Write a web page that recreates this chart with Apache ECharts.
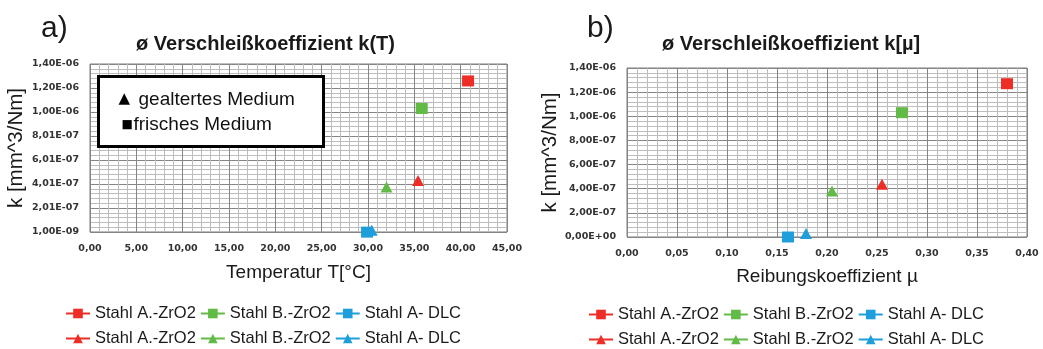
<!DOCTYPE html>
<html>
<head>
<meta charset="utf-8">
<title>Verschleißkoeffizient</title>
<script src="https://cdn.jsdelivr.net/npm/echarts@6/dist/echarts.min.js"></script>
<style>
  html, body { margin: 0; padding: 0; background: #ffffff; }
  #chart { width: 1043px; height: 349px; }
</style>
</head>
<body>
<div id="chart"></div>
<script>
// Series labels shared by both panels
const materialNames = ['Stahl A.-ZrO2', 'Stahl B.-ZrO2', 'Stahl A- DLC'];
const materialColors = ['#EE2E26', '#63BB47', '#1E9FDB'];

// a) k over temperature T [°C]: fresh medium (squares) and aged medium (triangles)
const tempFresh = [40.8, 35.8, 29.9];
const kTempFresh = [1.26e-6, 1.03e-6, 0];
const tempAged = [35.4, 32.0, 30.4];
const kTempAged = [4.3e-7, 3.75e-7, 1.5e-8];

// b) k over friction coefficient µ
const muFresh = [0.380, 0.275, 0.161];
const kMuFresh = [1.27e-6, 1.03e-6, 0];
const muAged = [0.255, 0.205, 0.179];
const kMuAged = [4.37e-7, 3.82e-7, 2.8e-8];

// Axis ranges and tick steps [min, max, interval]
const xRangeA = [0, 45, 5];
const xRangeB = [0, 0.40, 0.05];
const yRangeA = [1e-9, 1.401e-6, 2e-7];
const yRangeB = [0, 1.4e-6, 2e-7];

// Marker key inside panel a)
const keyLines = [
  { glyph: '▲', text: 'gealtertes Medium' },
  { glyph: '■', text: 'frisches Medium' }
];

function sciLabel(v) {
  if (Math.abs(v) < 1e-15) return '0,00E+00';
  const parts = v.toExponential(2).split('e');
  const exp = parseInt(parts[1], 10);
  const sign = exp < 0 ? '-' : '+';
  const e = Math.abs(exp);
  return parts[0].replace('.', ',') + 'E' + sign + (e < 10 ? '0' : '') + e;
}
function decLabel(v) {
  return v.toFixed(2).replace('.', ',');
}

const FRESH = '#frisch', AGED = '#gealtert';
const tickFont = { fontFamily: 'DejaVu Sans', fontWeight: 'bold', fontSize: 9.5, color: '#333' };
const xNameFont = { fontFamily: 'Liberation Sans', fontSize: 19, color: '#1a1a1a' };
const yNameFont = { fontFamily: 'Liberation Sans', fontSize: 20.5, color: '#1a1a1a' };

function xAxisCfg(idx, range, name, gap) {
  return {
    type: 'value', gridIndex: idx, min: range[0], max: range[1], interval: range[2],
    name: name, nameLocation: 'middle', nameGap: gap, nameTextStyle: xNameFont,
    axisLine: { show: false }, axisTick: { show: false },
    axisLabel: Object.assign({ margin: 12, formatter: decLabel }, tickFont),
    splitLine: { show: true, lineStyle: { color: '#858585', width: 1 } },
    minorTick: { show: false, splitNumber: 5 },
    minorSplitLine: { show: true, lineStyle: { color: '#bdbdbd', width: 1 } }
  };
}
function yAxisCfg(idx, range, gap) {
  return {
    type: 'value', gridIndex: idx, min: range[0], max: range[1], interval: range[2],
    name: 'k [mm^3/Nm]', nameLocation: 'middle', nameGap: gap, nameTextStyle: yNameFont,
    axisLine: { show: false }, axisTick: { show: false },
    axisLabel: Object.assign({ margin: 11, formatter: sciLabel }, tickFont),
    splitLine: { show: true, lineStyle: { color: '#858585', width: 1 } },
    minorTick: { show: false, splitNumber: 5 },
    minorSplitLine: { show: true, lineStyle: { color: '#bdbdbd', width: 1 } }
  };
}

function pointSeries(gridIdx, xs, ys, symbol, suffix) {
  return materialNames.map((n, i) => ({
    name: n + suffix,
    type: 'line',
    xAxisIndex: gridIdx, yAxisIndex: gridIdx,
    data: [[xs[i], ys[i]]],
    symbol: symbol,
    symbolSize: [12, 11],
    showSymbol: true,
    clip: false,
    color: materialColors[i],
    itemStyle: { color: materialColors[i] },
    lineStyle: { color: materialColors[i], width: 2 },
    z: 5
  }));
}

function legendRow(left, top, suffix) {
  return {
    left: left, top: top, orient: 'horizontal', padding: 0,
    itemWidth: 24, itemHeight: 12, itemGap: 4,
    data: materialNames.map(n => n + suffix),
    formatter: name => name.split('#')[0],
    textStyle: { fontFamily: 'Liberation Sans', fontSize: 16.5, color: '#1a1a1a' },
    selectedMode: false
  };
}

const keyChildren = [
  { type: 'rect', z: 100, shape: { x: 0, y: 0, width: 225, height: 70 }, style: { fill: '#ffffff', stroke: '#000000', lineWidth: 3 } }
];
keyLines.forEach((k, i) => {
  keyChildren.push({ type: 'text', z: 101, x: 20 + (i === 1 ? 3 : 0), y: 23 + i * 25,
    style: { text: k.glyph, font: (i === 0 ? '15px' : '12px') + ' "DejaVu Sans"', fill: '#000', verticalAlign: 'middle' } });
  keyChildren.push({ type: 'text', z: 101, x: 40 - (i === 1 ? 5 : 0), y: 23 + i * 25,
    style: { text: k.text, font: '19px "Liberation Sans"', fill: '#111', verticalAlign: 'middle' } });
});

const option = {
  backgroundColor: '#ffffff',
  animation: false,
  title: [
    { text: 'a)', left: 36, top: 9, textStyle: { fontFamily: 'Liberation Sans', fontSize: 30, fontWeight: 'normal', color: '#1a1a1a' } },
    { text: 'ø Verschleißkoeffizient k(T)', left: 131, top: 29, textStyle: { fontFamily: 'Liberation Sans', fontSize: 20, fontWeight: 'bold', color: '#1a1a1a' } },
    { text: 'b)', left: 582, top: 9, textStyle: { fontFamily: 'Liberation Sans', fontSize: 30, fontWeight: 'normal', color: '#1a1a1a' } },
    { text: 'ø Verschleißkoeffizient k[µ]', left: 657, top: 29, textStyle: { fontFamily: 'Liberation Sans', fontSize: 20, fontWeight: 'bold', color: '#1a1a1a' } }
  ],
  grid: [
    { left: 90, top: 64, width: 417, height: 168, show: true, borderColor: '#7a7a7a', borderWidth: 1, backgroundColor: '#ffffff' },
    { left: 627, top: 68, width: 400, height: 169, show: true, borderColor: '#7a7a7a', borderWidth: 1, backgroundColor: '#ffffff' }
  ],
  xAxis: [
    xAxisCfg(0, xRangeA, 'Temperatur T[°C]', 31),
    xAxisCfg(1, xRangeB, 'Reibungskoeffizient µ', 30)
  ],
  yAxis: [
    yAxisCfg(0, yRangeA, 63),
    yAxisCfg(1, yRangeB, 60)
  ],
  legend: [
    legendRow(65, 305, FRESH),
    legendRow(65, 330, AGED),
    legendRow(588, 306, FRESH),
    legendRow(588, 331, AGED)
  ],
  series: [].concat(
    pointSeries(0, tempFresh, kTempFresh, 'rect', FRESH),
    pointSeries(0, tempAged, kTempAged, 'triangle', AGED),
    pointSeries(1, muFresh, kMuFresh, 'rect', FRESH),
    pointSeries(1, muAged, kMuAged, 'triangle', AGED)
  ),
  graphic: [
    { type: 'group', left: 97, top: 75, z: 100, children: keyChildren }
  ]
};

const chart = echarts.init(document.getElementById('chart'), null, { renderer: 'canvas' });
chart.setOption(option);
</script>
</body>
</html>
